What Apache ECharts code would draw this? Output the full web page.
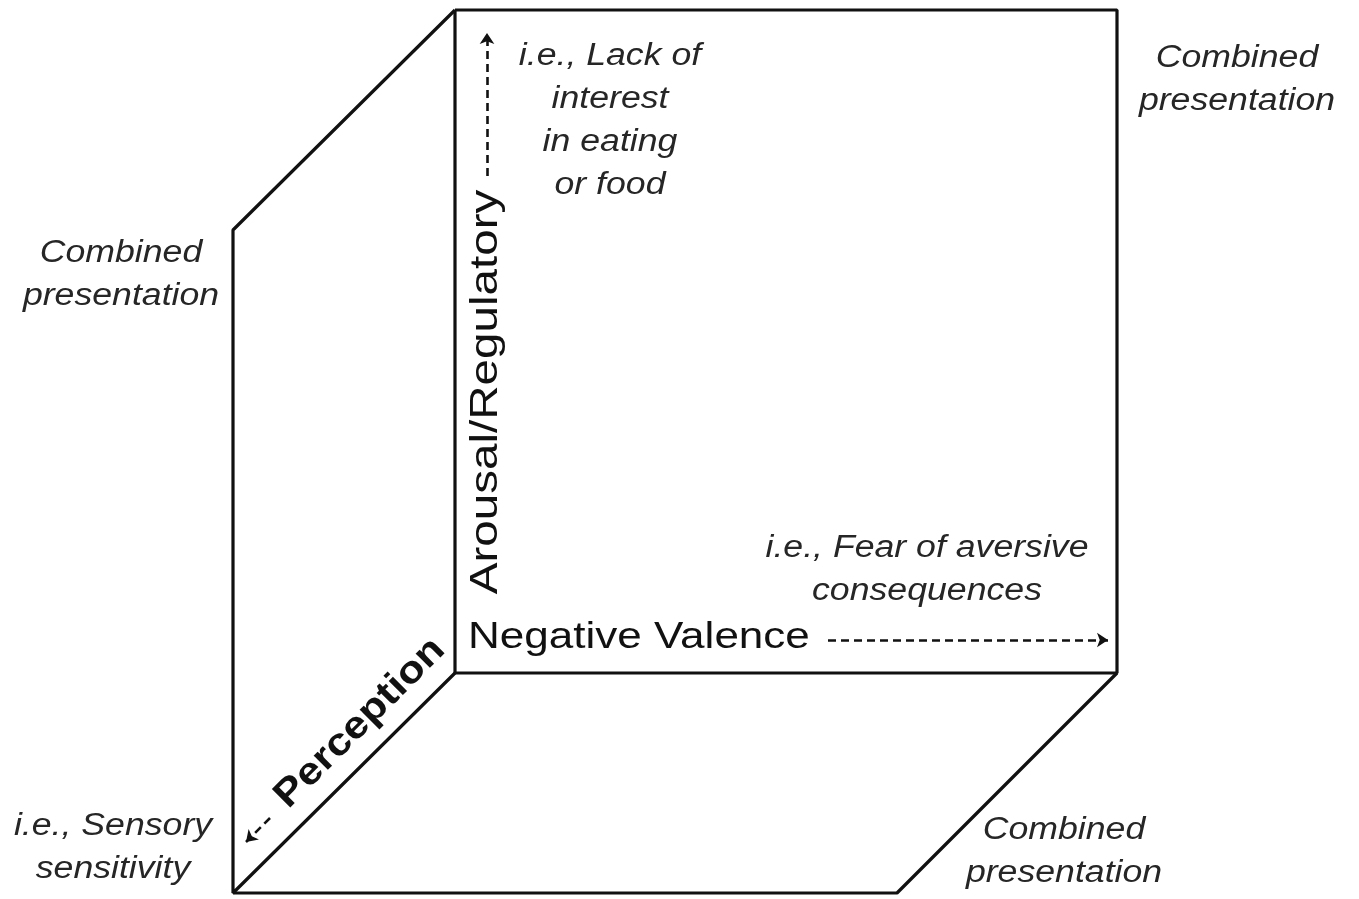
<!DOCTYPE html>
<html>
<head>
<meta charset="utf-8">
<script src="https://cdn.jsdelivr.net/npm/echarts@6/dist/echarts.min.js"></script>
<style>
html,body{margin:0;padding:0;background:#fff;}
#main{width:1359px;height:899px;}
</style>
</head>
<body>
<div id="main"></div>
<script>
// ---- Diagram data (in the diagram's own coordinate space: x 0..1359, y 0..899 top-down) ----
var backFace   = [[455,10],[1117,10],[1117,673],[455,673],[455,10]];
var leftFace   = [[455,10],[233,230],[233,893],[455,673]];
var bottomFace = [[233,893],[897,893],[1117,673]];

var arrowUp    = [[487,176],[487,33]];
var arrowRight = [[828,640],[1108,640]];
var arrowDown  = [[270,818],[246,842]];

var italicTexts = [
  {text:'i.e., Lack of\ninterest\nin eating\nor food', pos:[610,121]},
  {text:'Combined\npresentation', pos:[1237,80]},
  {text:'Combined\npresentation', pos:[121,275]},
  {text:'Combined\npresentation', pos:[1064,852]},
  {text:'i.e., Sensory\nsensitivity', pos:[113,848]},
  {text:'i.e., Fear of aversive\nconsequences', pos:[927,570]}
];
var axisTexts = [
  {text:'Negative Valence', pos:[468,638], angle:0, align:'left', bold:false, size:37, stretch:1.19},
  {text:'Arousal/Regulatory', pos:[486,392], angle:90, align:'center', bold:false, size:39, stretch:1.22},
  {text:'Perception', pos:[360,723], angle:45, align:'center', bold:true, size:38, stretch:1.14}
];

var chart = echarts.init(document.getElementById('main'), null, {renderer:'canvas'});

var LINE = '#111';
function edge(data){
  return {type:'line', data:data, symbol:'none', silent:true, animation:false,
    lineStyle:{color:LINE, width:3.2}, z:2};
}
function dashArrow(pair){
  return {type:'lines', coordinateSystem:'cartesian2d', silent:true, animation:false,
    symbol:['none','arrow'], symbolSize:11,
    lineStyle:{color:LINE, width:2.6, type:[8,5], opacity:1},
    data:[{coords:pair}], z:3};
}

chart.setOption({
  backgroundColor:'#ffffff',
  animation:false,
  grid:{left:0,right:0,top:0,bottom:0,containLabel:false},
  xAxis:{type:'value',min:0,max:1359,show:false},
  yAxis:{type:'value',min:0,max:899,inverse:true,show:false},
  series:[
    edge(backFace), edge(leftFace), edge(bottomFace),
    dashArrow(arrowUp), dashArrow(arrowRight), dashArrow(arrowDown)
  ]
});

// text placed at data-space anchors converted through the axes
var graphics = [];
italicTexts.forEach(function(t){
  var p = chart.convertToPixel({gridIndex:0}, t.pos);
  graphics.push({type:'text', x:p[0], y:p[1], scaleX:1.15, z:10,
    style:{text:t.text, fill:'#262626', fontFamily:'"Liberation Sans", Arial, sans-serif',
      fontStyle:'italic', fontSize:31, lineHeight:43, align:'center', verticalAlign:'middle'}});
});
axisTexts.forEach(function(t){
  var p = chart.convertToPixel({gridIndex:0}, t.pos);
  graphics.push({type:'text', x:p[0], y:p[1], rotation:t.angle*Math.PI/180, scaleX:t.stretch, z:10,
    style:{text:t.text, fill:'#111', fontFamily:'"Liberation Sans", Arial, sans-serif',
      fontWeight:t.bold?'bold':'normal', fontSize:t.size, align:t.align, verticalAlign:'middle'}});
});
chart.setOption({graphic:graphics});
</script>
</body>
</html>
